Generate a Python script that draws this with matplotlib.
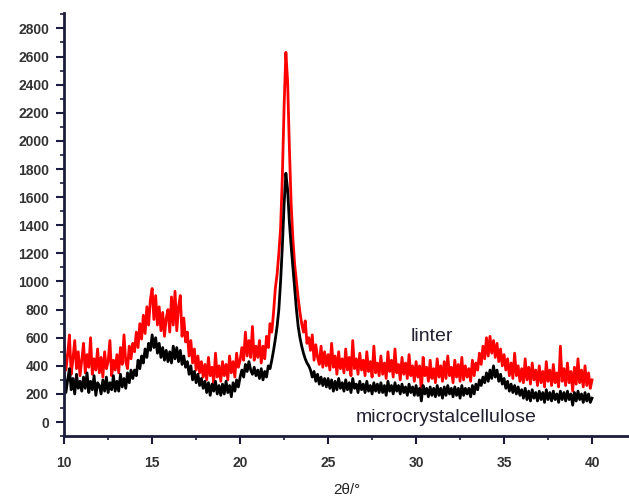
import numpy as np
import matplotlib.pyplot as plt
from matplotlib.ticker import MultipleLocator

# XRD patterns, intensity every 0.1 deg from 10 to 40
two_theta = np.round(np.linspace(10, 40, 301), 1)

linter = [
    540, 370, 480, 620, 340, 450, 580, 380, 500, 330,
    440, 560, 350, 480, 390, 600, 340, 450, 370, 520,
    350, 460, 320, 500, 380, 430, 580, 330, 440, 370,
    480, 350, 530, 410, 620, 430, 380, 540, 450, 560,
    500, 640, 530, 700, 590, 760, 630, 820, 690, 870,
    950, 730, 900, 690, 820, 650, 780, 610, 740, 800,
    640, 890, 690, 930, 650, 820, 900, 610, 740, 570,
    640, 470, 580, 420, 520, 370, 470, 350, 430, 320,
    410, 300, 460, 330, 390, 280, 490, 320, 400, 290,
    430, 330, 410, 300, 470, 350, 430, 320, 490, 390,
    440, 530, 440, 640, 470, 580, 460, 680, 440, 540,
    460, 580, 420, 540, 450, 610, 530, 700, 640, 780,
    950, 1050, 1200, 1380, 1750, 2250, 2630, 2420, 1950, 1550,
    1300, 1120, 1000, 880, 780, 700, 640, 720, 560, 600,
    510, 620, 440, 550, 460, 410, 540, 390, 500, 400,
    480, 370, 560, 390, 470, 340, 500, 380, 450, 350,
    520, 370, 460, 330, 580, 380, 450, 340, 490, 370,
    440, 330, 500, 360, 430, 320, 540, 350, 420, 330,
    470, 340, 420, 310, 500, 360, 440, 320, 520, 350,
    410, 300, 460, 340, 420, 310, 480, 330, 400, 290,
    430, 320, 400, 220, 460, 330, 390, 290, 440, 310,
    380, 280, 450, 320, 400, 290, 430, 310, 470, 330,
    390, 280, 440, 320, 410, 290, 460, 300, 400, 320,
    380, 290, 440, 330, 420, 370, 490, 410, 540, 450,
    600, 470, 610, 490, 580, 460, 560, 430, 520, 400,
    480, 370, 450, 330, 420, 310, 490, 330, 400, 290,
    380, 280, 450, 300, 390, 270, 420, 300, 370, 260,
    400, 280, 360, 250, 430, 290, 370, 260, 410, 280,
    350, 250, 540, 290, 380, 260, 420, 280, 360, 220,
    390, 270, 450, 280, 370, 250, 400, 260, 350, 240,
    300,
]

mcc = [
    350, 210, 300, 380, 230, 310, 200, 340, 240, 290,
    220, 320, 240, 350, 210, 290, 230, 330, 190, 280,
    260, 200, 300, 220, 320, 210, 280, 230, 330, 220,
    290, 220, 340, 250, 310, 240, 350, 280, 370, 310,
    370, 330, 440, 380, 470, 420, 520, 460, 560, 510,
    620, 530, 600, 490, 560, 460, 530, 440, 510, 430,
    500, 420, 540, 450, 530, 430, 510, 410, 470, 390,
    430, 340, 400, 300, 360, 280, 340, 260, 310, 240,
    290, 210, 280, 190, 270, 220, 290, 200, 260, 190,
    270, 200, 290, 210, 260, 180, 280, 220, 300, 250,
    320, 370, 320, 410, 360, 430, 370, 340, 390, 330,
    370, 310, 380, 300, 360, 320, 400, 380, 440, 510,
    590, 680, 800, 1000, 1250, 1550, 1770, 1650, 1420, 1250,
    1100, 950, 800, 680, 600, 540, 490, 450, 420, 400,
    370, 320, 360, 290, 340, 270, 320, 260, 310, 250,
    310, 240, 300, 220, 290, 230, 310, 240, 280, 220,
    300, 230, 280, 210, 310, 240, 270, 210, 290, 230,
    270, 210, 290, 220, 260, 200, 280, 220, 270, 210,
    280, 210, 260, 190, 290, 220, 260, 200, 280, 220,
    260, 200, 270, 210, 250, 190, 270, 210, 250, 190,
    260, 190, 240, 150, 260, 200, 240, 180, 250, 190,
    240, 180, 260, 190, 240, 170, 250, 190, 260, 200,
    240, 180, 250, 190, 240, 170, 260, 190, 240, 200,
    240, 180, 260, 200, 270, 230, 300, 260, 320, 280,
    350, 290, 370, 310, 400, 320, 370, 290, 340, 270,
    310, 240, 290, 220, 270, 210, 260, 200, 250, 190,
    230, 170, 240, 160, 220, 150, 230, 170, 210, 150,
    220, 160, 210, 140, 230, 160, 210, 150, 220, 160,
    200, 140, 220, 160, 210, 150, 220, 160, 200, 120,
    210, 150, 220, 160, 200, 140, 210, 150, 200, 140,
    170,
]

plt.rcParams['font.family'] = ['Liberation Sans', 'DejaVu Sans']

fig = plt.figure(figsize=(6.29, 4.99), dpi=100)
ax = fig.add_axes([0.102, 0.126, 0.898, 0.848])

ax.plot(two_theta, linter, color='#ff0000', lw=2.0)
ax.plot(two_theta, mcc, color='black', lw=2.0)

ax.set_xlim(10, 42.1)
ax.set_ylim(-100, 2910)

ax.xaxis.set_major_locator(MultipleLocator(5))
ax.xaxis.set_minor_locator(MultipleLocator(2.5))
ax.yaxis.set_major_locator(MultipleLocator(200))
ax.yaxis.set_minor_locator(MultipleLocator(100))
ax.set_xticks(np.arange(10, 41, 5))

axis_col = '#1c1c3c'
for s in ['top', 'right']:
    ax.spines[s].set_visible(False)
for s in ['left', 'bottom']:
    ax.spines[s].set_linewidth(2)
    ax.spines[s].set_color(axis_col)

ax.tick_params(axis='both', which='major', direction='out', length=6, width=1.5,
               color=axis_col, labelsize=10, pad=5)
ax.tick_params(axis='both', which='minor', direction='out', length=3, width=1.2,
               color=axis_col)
ax.tick_params(axis='x', which='major', pad=8)
for lab in ax.get_xticklabels() + ax.get_yticklabels():
    lab.set_fontweight('bold')
    lab.set_color('#333333')

ax.set_xlabel('2θ/°', fontsize=11, labelpad=10, color='#222222')

ax.text(30.9, 611, 'linter', fontsize=14, ha='center', va='center', color='#222233')
ax.text(31.7, 30, 'microcrystalcellulose', fontsize=14, ha='center', va='center',
        color='#222233')

fig.savefig('out.png', dpi=100)
